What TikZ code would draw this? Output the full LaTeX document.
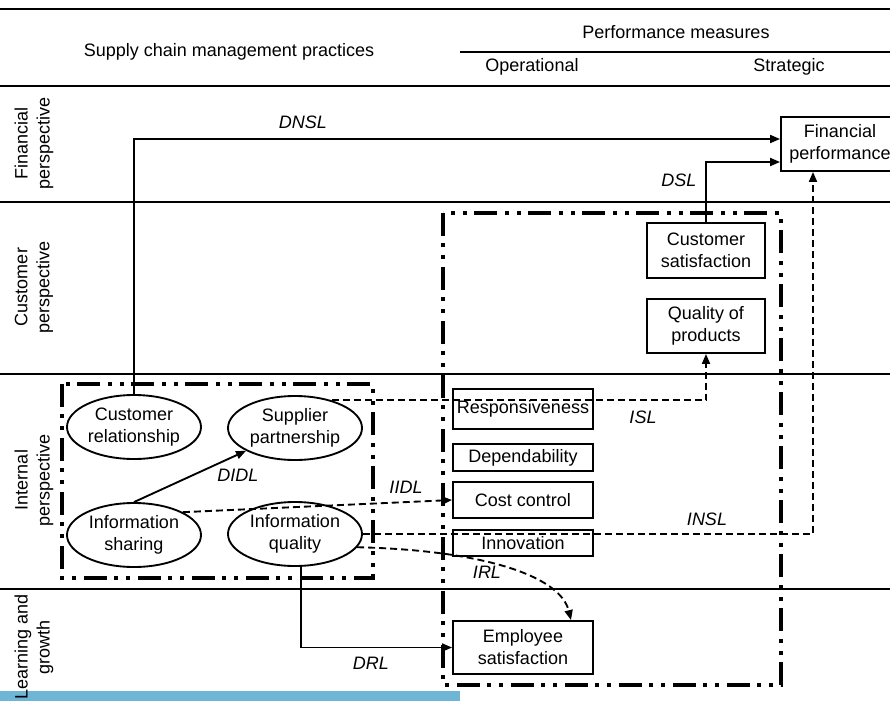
\documentclass[tikz,border=0pt]{standalone}
\usepackage{fontspec}
\setmainfont{Liberation Sans}
\usetikzlibrary{shapes,arrows.meta,calc,positioning}
\definecolor{barblue}{RGB}{110,181,214}

\tikzset{
	>={Triangle[length=7.5pt,width=6pt]},
	rule/.style={line width=1.4pt},
	box/.style={draw,line width=1.4pt,inner sep=0pt,align=center,minimum width=105pt},
	oval/.style={draw,ellipse,line width=1.4pt,inner sep=0pt,align=center,minimum width=100.5pt,minimum height=48pt},
	link/.style={line width=1.4pt,->},
	dlink/.style={line width=1.4pt,->,dash pattern=on 5.25pt off 3pt},
	lbl/.style={font=\fontsize{13.5}{16.5}\selectfont\itshape},
	side/.style={rotate=90,align=center},
	groupbox/.style={line width=3pt,dash pattern=on 17pt off 5.5pt on 3pt off 6pt on 3pt off 6pt}
}

\begin{document}
\begin{tikzpicture}[x=0.75pt,y=-0.75pt,font=\fontsize{13.5}{16.5}\selectfont]
	\useasboundingbox (0,0) rectangle (890,701);
	\fill[barblue] (0,691) rectangle (460,701);

	% rules
	\draw[rule] (0,9) -- (890,9);
	\draw[rule] (460,52) -- (890,52);
	\draw[rule] (0,86) -- (890,86);
	\draw[rule] (0,202) -- (890,202);
	\draw[rule] (0,374) -- (890,374);
	\draw[rule] (0,589) -- (890,589);

	% headings
	\node (scmp) at (229,52) {Supply chain management practices};
	\node (perf) at (676,32) {Performance measures};
	\node (oper) at (532,67) {Operational};
	\node (strat) at (789,67) {Strategic};

	\node[side] (finpers) at (34,143) {Financial\\perspective};
	\node[side] (cuspers) at (34,287) {Customer\\perspective};
	\node[side] (intpers) at (34,480) {Internal\\perspective};
	\node[side] (learn) at (34,647) {Learning and\\growth};

	% groups
	\draw[groupbox] (62,384) rectangle (373,578);
	\draw[groupbox] (443,213) rectangle (781,685);

	% practices
	\node[oval] (custrel) at (134,427) {Customer\\relationship};
	\node[oval] (suppart) at (295,428) {Supplier\\partnership};
	\node[oval] (infoshare) at (134,535) {Information\\sharing};
	\node[oval] (infoqual) at (295,534) {Information\\quality};

	% operational measures
	\node[box,minimum height=30pt] (resp) at (523,409) {Responsiveness};
	\node[box,minimum height=20.25pt] (depend) at (523,457.5) {Dependability};
	\node[box,minimum height=27pt] (cost) at (523,500) {Cost control};
	\node[box,minimum height=19.5pt] (innov) at (523,543) {Innovation};
	\node[box,minimum height=39.75pt] (empsat) at (523,647.5) {Employee\\satisfaction};

	% strategic measures
	\node[box,minimum width=88.5pt,minimum height=41.25pt] (custsat) at (706,250.5) {Customer\\satisfaction};
	\node[box,minimum width=88.5pt,minimum height=40.5pt] (qualprod) at (706,326) {Quality of\\products};
	\node[box,minimum width=88.5pt,minimum height=40.5pt] (finperf) at (840,144) {Financial\\performance};

	% links
	\draw[link] (custrel.north) |- (finperf.west |- 0,139);
	\draw[link] (custsat.north) |- (finperf.west |- 0,162);
	\draw[dlink] (infoqual.east) -| (813,0 |- finperf.south);
	\draw[dlink] (suppart.37) -| (qualprod.south);
	\draw[dlink] (infoshare.25) -- (cost.west);
	\draw[dlink] (infoqual.-12) .. controls (480,550) and (560,575) .. (571,0 |- empsat.north);
	\draw[link] ([xshift=4.5pt]infoqual.south) |- (empsat.west);
	\draw[link] (infoshare.north) -- (suppart.205);

	\node[lbl] (dnsl) at (303,122) {DNSL};
	\node[lbl] (dsl) at (679,180) {DSL};
	\node[lbl] (isl) at (643,417) {ISL};
	\node[lbl] (insl) at (707,519) {INSL};
	\node[lbl] (iidl) at (406,487) {IIDL};
	\node[lbl] (irl) at (487,572) {IRL};
	\node[lbl] (didl) at (238,475) {DIDL};
	\node[lbl] (drl) at (371,663) {DRL};
\end{tikzpicture}
\end{document}
